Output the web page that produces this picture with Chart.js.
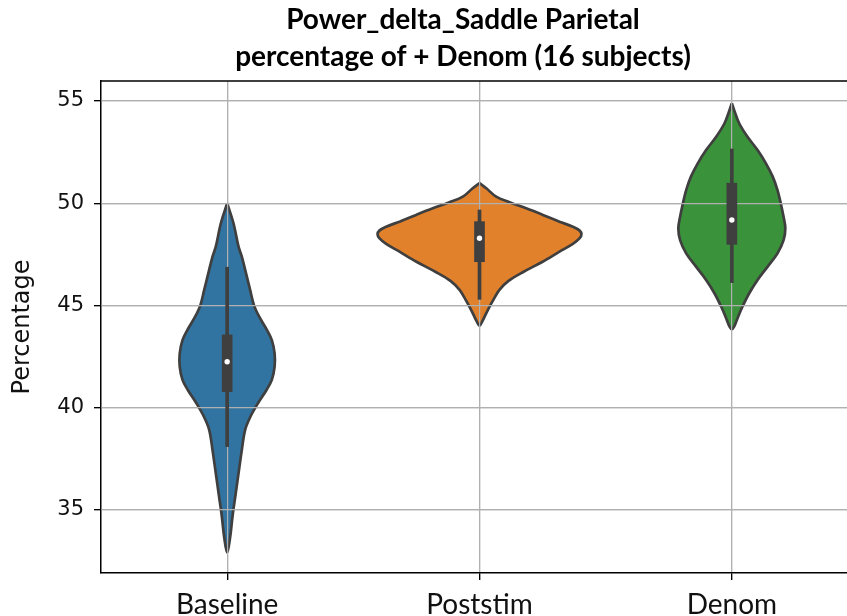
<!DOCTYPE html>
<html>
<head>
 <meta charset="utf-8">
 <title>Power_delta_Saddle Parietal</title>
 <script src="https://cdn.jsdelivr.net/npm/chart.js@4.4.1/dist/chart.umd.min.js"></script>
 <style>
  body { margin: 0; overflow: hidden; background: #fff; }
  canvas { display: block; }
 </style>
</head>
<body>
 <canvas id="violins" width="926" height="650"></canvas>

<script>
 // categories along x
 var categories = ["Baseline", "Poststim", "Denom"];
 var violinColors = ["#3274a1", "#e1812c", "#3a923a"];
 var yTicks = [35, 40, 45, 50, 55];

 // violin outlines: value levels (top to bottom) and half widths (in category spacing)
 var baselineLevels = [50.00, 49.02, 47.88, 47.39, 46.41, 45.76, 45.02, 44.45, 43.80, 43.31, 42.66, 42.01,
                       41.36, 40.87, 40.22, 39.56, 38.91, 37.93, 36.79, 35.65, 34.67, 33.69, 32.91];
 var baselineWidths = [0, 0.025, 0.045, 0.058, 0.078, 0.091, 0.106, 0.127, 0.158, 0.177, 0.188, 0.188,
                       0.177, 0.156, 0.122, 0.092, 0.071, 0.058, 0.045, 0.032, 0.021, 0.012, 0];

 var poststimLevels = [50.98, 50.73, 50.32, 50.05, 49.75, 49.43, 49.10, 48.85, 48.66, 48.48, 48.29,
                       48.01, 47.63, 47.14, 46.65, 46.20, 45.76, 45.30, 44.90, 44.50, 44.20, 44.00];
 var poststimWidths = [0, 0.027, 0.066, 0.119, 0.185, 0.251, 0.317, 0.370, 0.397, 0.404, 0.397,
                       0.370, 0.317, 0.250, 0.175, 0.115, 0.079, 0.056, 0.038, 0.022, 0.010, 0];

 var denomLevels = [54.89, 54.56, 53.91, 53.25, 52.60, 51.95, 51.30, 50.64, 49.99, 49.34,
                    48.77, 48.20, 47.55, 46.90, 46.25, 45.60, 44.94, 44.45, 43.96, 43.84];
 var denomWidths = [0, 0.009, 0.029, 0.062, 0.102, 0.135, 0.162, 0.181, 0.194, 0.205,
                    0.212, 0.205, 0.181, 0.142, 0.102, 0.069, 0.042, 0.025, 0.009, 0];

 // inner box: quartiles, whiskers, medians
 var q1 = [40.79, 47.14, 47.99];
 var q3 = [43.56, 49.10, 50.98];
 var whiskerLow = [38.10, 45.30, 46.12];
 var whiskerHigh = [46.87, 49.67, 52.65];
 var medians = [42.25, 48.29, 49.18];

 var CHART_H = 650;
 var AREA_BOTTOM = 573;
 var AREA_LEFT = 101;
 var RIGHT_GAP = 68;     // empty box on the right so the title centres like the original
 var INK = "#3f3f3f";

 // walk down the left side, then back up the right side
 function outline(i, levels, widths) {
  var left = levels.map(function (v, k) { return { x: i - widths[k], y: v }; });
  var right = levels.map(function (v, k) { return { x: i + widths[k], y: v }; }).reverse().slice(1);
  return left.concat(right);
 }

 var shapes = [[baselineLevels, baselineWidths], [poststimLevels, poststimWidths], [denomLevels, denomWidths]];
 var datasets = [];
 shapes.forEach(function (s, i) {
  datasets.push({
   type: "scatter", data: outline(i, s[0], s[1]), showLine: true, fill: "shape",
   backgroundColor: violinColors[i], borderColor: INK, borderWidth: 2.7,
   pointRadius: 0, tension: 0.35, order: 4
  });
 });
 datasets.push({
  type: "bar", grouped: false, barThickness: 3, backgroundColor: INK, order: 3,
  data: categories.map(function (c, i) { return { x: i, y: [whiskerLow[i], whiskerHigh[i]] }; })
 });
 datasets.push({
  type: "bar", grouped: false, barThickness: 10, backgroundColor: INK, order: 2,
  data: categories.map(function (c, i) { return { x: i, y: [q1[i], q3[i]] }; })
 });
 datasets.push({
  type: "scatter", pointRadius: 2.7, pointBackgroundColor: "#fff", pointBorderWidth: 0, order: 1,
  data: categories.map(function (c, i) { return { x: i, y: medians[i] }; })
 });

 // grid sits above the violins but under the boxes (matplotlib zorder)
 var gridOverViolins = {
  id: "gridOverViolins",
  beforeDatasetDraw: function (chart, args) {
   if (args.index === 3) {
    chart.scales.x.drawGrid(chart.chartArea);
    chart.scales.y.drawGrid(chart.chartArea);
   }
  }
 };

 // top and right spines
 var frame = {
  id: "frame",
  afterDraw: function (chart) {
   var a = chart.chartArea, ctx = chart.ctx;
   ctx.save();
   ctx.strokeStyle = "#000";
   ctx.lineWidth = 1.5;
   ctx.beginPath();
   ctx.moveTo(a.left, a.top);
   ctx.lineTo(a.right, a.top);
   ctx.lineTo(a.right, a.bottom);
   ctx.stroke();
   ctx.restore();
  }
 };

 new Chart(document.getElementById("violins"), {
  type: "scatter",
  data: { datasets: datasets },
  plugins: [gridOverViolins, frame],
  options: {
   responsive: false,
   animation: false,
   devicePixelRatio: 1,
   layout: { padding: 0 },
   plugins: {
    legend: { display: false },
    tooltip: { enabled: false },
    title: {
     display: true,
     text: ["Power_delta_Saddle Parietal", "percentage of + Denom (16 subjects)"],
     color: "#000",
     font: { family: "Lato", size: 28, weight: "bold", lineHeight: 1.32 },
     padding: { top: 1.5, bottom: 5.5 }
    }
   },
   scales: {
    x: {
     type: "linear", min: -0.5, max: 2.5, offset: false,
     afterBuildTicks: function (scale) {
      scale.ticks = categories.map(function (c, i) { return { value: i }; });
     },
     afterFit: function (scale) { scale.height = CHART_H - AREA_BOTTOM; },
     ticks: {
      callback: function (v) { return categories[v]; },
      font: { family: "Lato", size: 28 }, color: "#111", padding: 8, maxRotation: 0
     },
     grid: { color: "#b0b0b0", lineWidth: 1.2, tickLength: 7, tickColor: "#000", tickWidth: 1.2, offset: false },
     border: { display: true, color: "#000", width: 1.5 }
    },
    y: {
     type: "linear", min: 31.92, max: 55.98,
     afterBuildTicks: function (scale) {
      scale.ticks = yTicks.map(function (v) { return { value: v }; });
     },
     afterFit: function (scale) { scale.width = AREA_LEFT; },
     ticks: { font: { family: "DejaVu Sans", size: 21 }, color: "#111", padding: 10 },
     grid: { color: "#b0b0b0", lineWidth: 1.2, tickLength: 7, tickColor: "#000", tickWidth: 1.2 },
     border: { display: true, color: "#000", width: 1.5 },
     title: {
      display: true, text: "Percentage", color: "#111",
      font: { family: "DejaVu Sans", size: 24 }, padding: { top: 8.6, bottom: 0 }
     }
    },
    gap: {
     type: "linear", position: "right", axis: "y", min: 31.92, max: 55.98,
     afterFit: function (scale) { scale.width = RIGHT_GAP; },
     ticks: { display: false },
     grid: { display: false, drawTicks: false },
     border: { display: false }
    }
   }
  }
 });
</script>
</body>
</html>
